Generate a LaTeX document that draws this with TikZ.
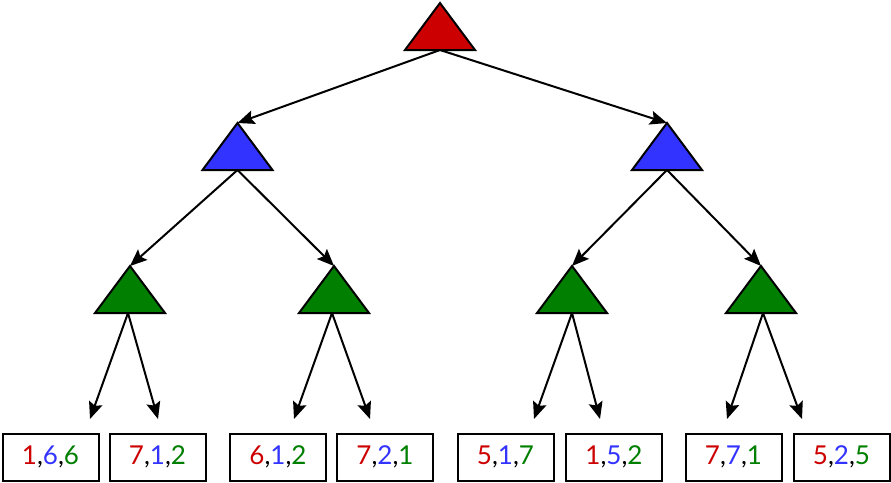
\documentclass[tikz,border=0pt]{standalone}
\usepackage{fontspec}
\setmainfont{Lato}
\usetikzlibrary{arrows.meta,calc}
\definecolor{cR}{HTML}{CC0000}
\definecolor{cB}{HTML}{3333FF}
\definecolor{cG}{HTML}{007F00}
\tikzset{
  tri/.style={draw=black,line width=2pt,line join=miter},
  arr/.style={line width=2pt,-{Stealth[length=17pt,width=14pt,inset=3pt]}},
  leaf/.style={draw=black,line width=2pt,minimum width=96pt,minimum height=47pt,inner sep=0pt,font=\fontsize{26}{30}\selectfont}
}
\newcommand{\tripath}[3]{% name, x, apex y
  \coordinate (#1A) at (#2,#3);
  \coordinate (#1B) at (#2,#3+47);
}
\newcommand{\vals}[3]{\textcolor{cR}{#1},\textcolor{cB}{#2},\textcolor{cG}{#3}}
\begin{document}
\begin{tikzpicture}[x=1pt,y=-1pt]
\useasboundingbox (0,0) rectangle (891,482);
% triangle coordinates
\tripath{r}{440}{3}
\tripath{b1}{237.5}{123}
\tripath{b2}{667}{123}
\tripath{g1}{130}{266}
\tripath{g2}{334}{266}
\tripath{g3}{572}{266}
\tripath{g4}{761}{266}
\foreach \n/\c in {r/cR,b1/cB,b2/cB,g1/cG,g2/cG,g3/cG,g4/cG}{
  \draw[tri,fill=\c] ($(\n B)+(-35,0)$) -- (\n A) -- ($(\n B)+(35,0)$) -- cycle;
}
% leaves
\node[leaf] (l1) at (50.5,457) {\vals{1}{6}{6}};
\node[leaf] (l2) at (157.5,457) {\vals{7}{1}{2}};
\node[leaf] (l3) at (278,457) {\vals{6}{1}{2}};
\node[leaf] (l4) at (385,457) {\vals{7}{2}{1}};
\node[leaf] (l5) at (505.5,457) {\vals{5}{1}{7}};
\node[leaf] (l6) at (614,457) {\vals{1}{5}{2}};
\node[leaf] (l7) at (733.5,457) {\vals{7}{7}{1}};
\node[leaf] (l8) at (841.5,457) {\vals{5}{2}{5}};
% arrow ends above leaves
\coordinate (e1) at (90,419);
\coordinate (e2) at (158,419);
\coordinate (e3) at (294,419);
\coordinate (e4) at (370,419);
\coordinate (e5) at (534,419);
\coordinate (e6) at (600,419);
\coordinate (e7) at (727,419);
\coordinate (e8) at (802,419);
% connectors
\draw[arr] (rB) -- (b1A);
\draw[arr] (rB) -- (b2A);
\draw[arr] (b1B) -- (g1A);
\draw[arr] (b1B) -- (g2A);
\draw[arr] (b2B) -- (g3A);
\draw[arr] (b2B) -- (g4A);
\draw[arr] ($(g1B)+(-2,0)$) -- (e1);
\draw[arr] ($(g1B)+(-2,0)$) -- (e2);
\draw[arr] ($(g2B)+(-2,0)$) -- (e3);
\draw[arr] ($(g2B)+(-2,0)$) -- (e4);
\draw[arr] (g3B) -- (e5);
\draw[arr] (g3B) -- (e6);
\draw[arr] ($(g4B)+(2,0)$) -- (e7);
\draw[arr] ($(g4B)+(2,0)$) -- (e8);
\end{tikzpicture}
\end{document}
